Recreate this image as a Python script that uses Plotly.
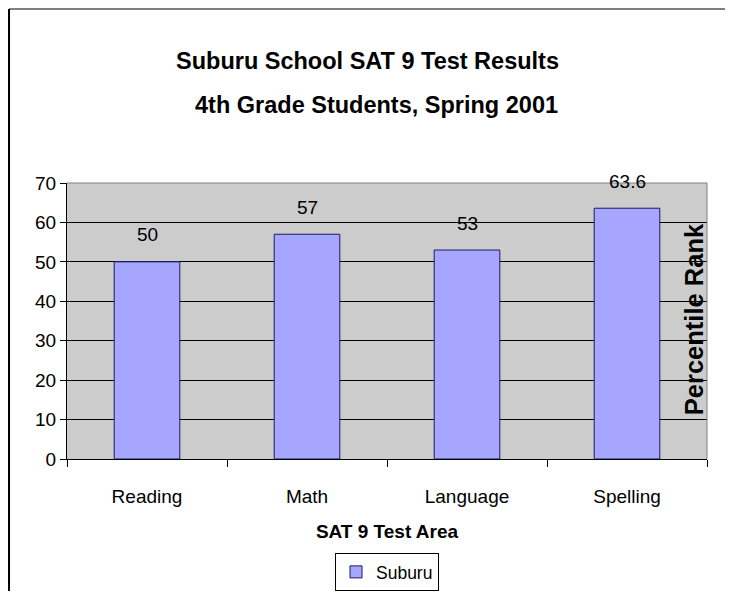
import plotly.graph_objects as go

# chart data
areas = ["Reading", "Math", "Language", "Spelling"]
scores = [50, 57, 53, 63.6]
score_labels = ["50", "57", "53", "63.6"]
y_ticks = [0, 10, 20, 30, 40, 50, 60, 70]

font_family = "Liberation Sans, Arial, sans-serif"

bars = go.Bar(
    x=areas,
    y=scores,
    name="Suburu",
    width=0.41,
    marker=dict(color="#A6A6FF", line=dict(color="#1A1A66", width=1)),
)

fig = go.Figure(data=[bars])

# value labels floating above each bar
annots = []
for a, v, t in zip(areas, scores, score_labels):
    annots.append(
        dict(
            x=a, y=v, text=t, showarrow=False, yshift=27,
            font=dict(family=font_family, size=19, color="black"),
        )
    )

# two line title
annots.append(dict(
    xref="paper", yref="paper", x=0.47, y=1.442, yanchor="middle",
    showarrow=False, text="<b>Suburu School SAT 9 Test Results</b>",
    font=dict(family=font_family, size=23.5, color="black"),
))
annots.append(dict(
    xref="paper", yref="paper", x=0.483, y=1.283, yanchor="middle",
    showarrow=False, text="<b>4th Grade Students, Spring 2001</b>",
    font=dict(family=font_family, size=23.5, color="black"),
))
# y axis title sits inside the plot on the right
annots.append(dict(
    xref="paper", yref="paper", x=1.004, y=0.505, xanchor="right",
    showarrow=False, text="<b>Percentile Rank</b>", textangle=-90,
    font=dict(family=font_family, size=25.5, color="black"),
))

# outer frame around the chart
shapes = [
    dict(type="line", xref="paper", yref="paper", x0=-0.0906, x1=1.0313,
         y0=1.6304, y1=1.6304, line=dict(color="#808080", width=2)),
    dict(type="line", xref="paper", yref="paper", x0=-0.0906, x1=-0.0906,
         y0=1.6304, y1=-0.6, line=dict(color="black", width=2)),
    dict(type="line", xref="paper", yref="paper", x0=1.0313, x1=1.0313,
         y0=1.6304, y1=-0.6, line=dict(color="black", width=2)),
    # plot area border on top and right
    dict(type="line", xref="paper", yref="paper", x0=0, x1=1, y0=1, y1=1,
         line=dict(color="#808080", width=1)),
    dict(type="line", xref="paper", yref="paper", x0=1, x1=1, y0=0, y1=1,
         line=dict(color="#808080", width=1)),
]

fig.update_layout(
    width=725,
    height=583,
    margin=dict(l=59, r=26, t=175, b=132, autoexpand=False),
    paper_bgcolor="white",
    plot_bgcolor="#CCCCCC",
    font=dict(family=font_family, size=19, color="black"),
    showlegend=True,
    legend=dict(
        x=0.5, y=-0.3406, xanchor="center", yanchor="top",
        bgcolor="white", bordercolor="black", borderwidth=1,
        font=dict(size=17.5), itemwidth=30,
    ),
    annotations=annots,
    shapes=shapes,
    bargap=0.59,
    xaxis=dict(
        title=dict(text="<b>SAT 9 Test Area</b>", font=dict(size=19), standoff=18),
        showline=True, linecolor="black", linewidth=1,
        ticks="outside", tickson="boundaries", ticklen=7, tickcolor="black",
        ticklabelstandoff=20,
        showgrid=False, zeroline=False,
        tickfont=dict(size=19),
    ),
    yaxis=dict(
        range=[0, 70],
        tickvals=y_ticks,
        showline=True, linecolor="black", linewidth=1,
        ticks="outside", ticklen=6, tickcolor="black",
        showgrid=True, gridcolor="black", gridwidth=1,
        zeroline=False,
        tickfont=dict(size=19),
    ),
)

fig.write_html("out.html")
